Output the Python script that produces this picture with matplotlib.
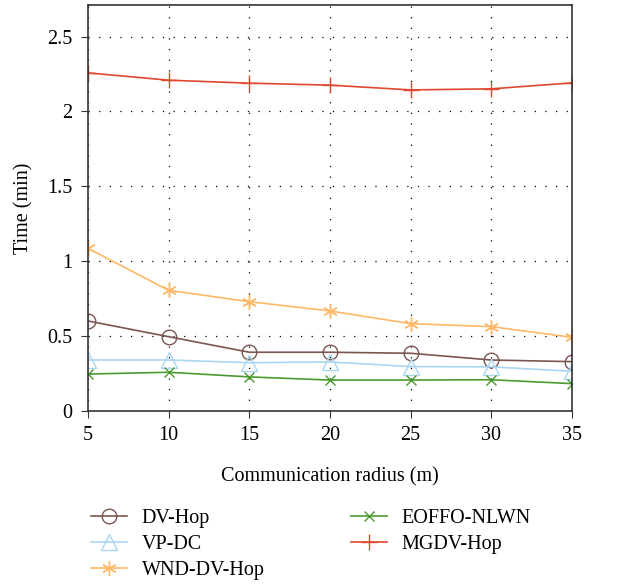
import numpy as np
import matplotlib.pyplot as plt

plt.rcParams['font.family'] = ['Liberation Serif', 'DejaVu Serif']

radius = [5, 10, 15, 20, 25, 30, 35]
dv_hop = [0.599, 0.494, 0.39, 0.39, 0.383, 0.338, 0.327]
vp_dc = [0.338, 0.338, 0.32, 0.325, 0.294, 0.292, 0.263]
wnd_dv_hop = [1.085, 0.804, 0.728, 0.666, 0.581, 0.561, 0.49]
eoffo_nlwn = [0.244, 0.256, 0.225, 0.204, 0.204, 0.206, 0.18]
mgdv_hop = [2.258, 2.209, 2.189, 2.176, 2.144, 2.151, 2.191]

fig = plt.figure(figsize=(6.19, 5.84), dpi=100)
ax = fig.add_axes([0.142, 0.297, 0.782, 0.694])

ax.plot(radius, dv_hop, color='#7b5650', marker='o', ms=10.5, mfc='none', mew=1.0, lw=1.2, label='DV-Hop')
ax.plot(radius, vp_dc, color='#a9d6f2', marker='^', ms=11.5, mfc='none', mew=1.0, lw=1.2, label='VP-DC')
ax.plot(radius, wnd_dv_hop, color='#ffb866', marker=(6, 2, 0), ms=10.5, mew=1.0, lw=1.2, label='WND-DV-Hop')
ax.plot(radius, eoffo_nlwn, color='#4b9a30', marker='x', ms=7, mew=1.0, lw=1.2, label='EOFFO-NLWN')
ax.plot(radius, mgdv_hop, color='#e0482f', marker='+', ms=12, mew=1.0, lw=1.2, label='MGDV-Hop')

ax.set_xlim(5, 35)
ax.set_ylim(0, 2.71)
ax.set_xticks(radius)
ax.set_yticks([0, 0.5, 1, 1.5, 2, 2.5])
ax.set_yticklabels(['0', '0.5', '1', '1.5', '2', '2.5'])
ax.grid(True, color='black', linestyle=(0, (1, 7.5)), lw=0.9)
for s in ax.spines.values():
    s.set_color('#333333')
    s.set_linewidth(1.2)
ax.tick_params(labelsize=14.5, direction='out', length=5, color='#333333', pad=6)

ax.set_xlabel('Communication radius (m)', fontsize=14.5, labelpad=16)
ax.set_ylabel('Time (min)', fontsize=14.5, labelpad=10)

fig.legend(loc='upper left', bbox_to_anchor=(0.118, 0.16), ncol=2, frameon=False,
           fontsize=14.5, handlelength=1.8, handletextpad=0.7, columnspacing=4.3,
           labelspacing=0.35)

fig.savefig('out.png', dpi=100)
